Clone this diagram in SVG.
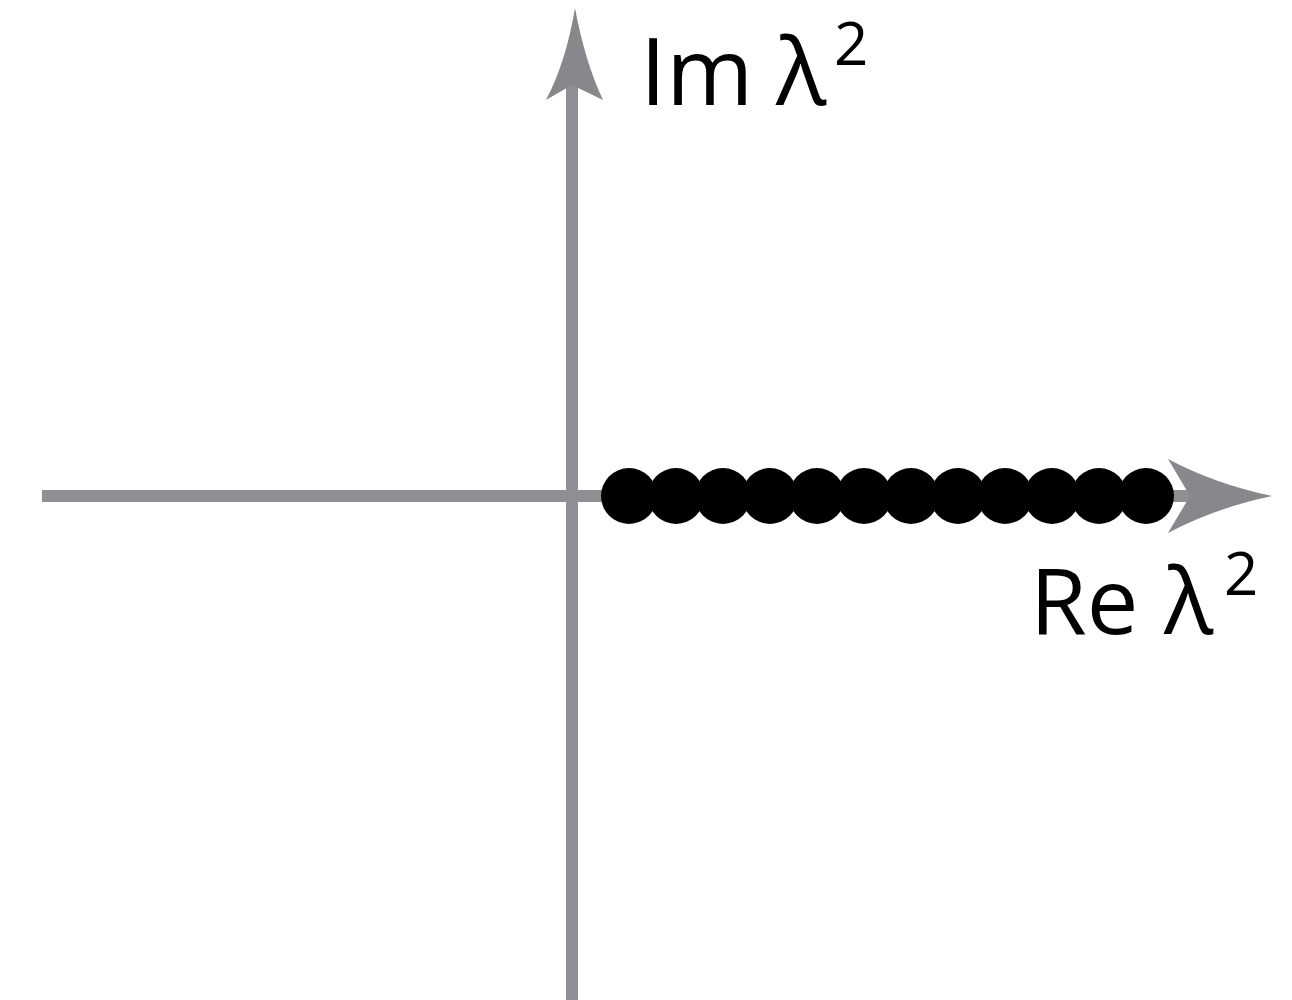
<svg xmlns="http://www.w3.org/2000/svg" width="1292" height="1000" viewBox="0 0 1292 1000">
<style>
.axis{stroke:#8f9093;stroke-width:12;fill:none}
.head{fill:#87888b}
.lbl{font-family:"Open Sans","Noto Sans",sans-serif;fill:#000}
.dot{fill:#000}
</style>
<rect width="1292" height="1000" fill="#fff"/>
<g id="connectors">
<line class="axis" x1="572" y1="1000" x2="572" y2="85"/>
<path class="head" d="M575,8 Q585,62 603,100 L572,85 L546,100 Q566,62 575,8 Z"/>
<line class="axis" x1="42" y1="496" x2="1190" y2="496"/>
<path class="head" d="M1272,496 Q1215,484 1168,459 L1190,496 L1168,533 Q1215,508 1272,496 Z"/>
</g>
<g id="dots">
<circle class="dot" cx="629" cy="496" r="28"/>
<circle class="dot" cx="676" cy="496" r="28"/>
<circle class="dot" cx="723" cy="496" r="28"/>
<circle class="dot" cx="770" cy="496" r="28"/>
<circle class="dot" cx="817" cy="496" r="28"/>
<circle class="dot" cx="864" cy="496" r="28"/>
<circle class="dot" cx="911" cy="496" r="28"/>
<circle class="dot" cx="958" cy="496" r="28"/>
<circle class="dot" cx="1005" cy="496" r="28"/>
<circle class="dot" cx="1052" cy="496" r="28"/>
<circle class="dot" cx="1099" cy="496" r="28"/>
<circle class="dot" cx="1146" cy="496" r="28"/>
</g>
<g id="label-im">
<text class="lbl" x="640" y="105" font-size="94">Im</text>
<text class="lbl" x="776" y="105" font-size="94">λ</text>
<text class="lbl" x="834" y="65" font-size="60">2</text>
</g>
<g id="label-re">
<text class="lbl" x="1030" y="634" font-size="92">Re</text>
<text class="lbl" x="1164" y="634" font-size="92">λ</text>
<text class="lbl" x="1224" y="595" font-size="60">2</text>
</g>
</svg>
